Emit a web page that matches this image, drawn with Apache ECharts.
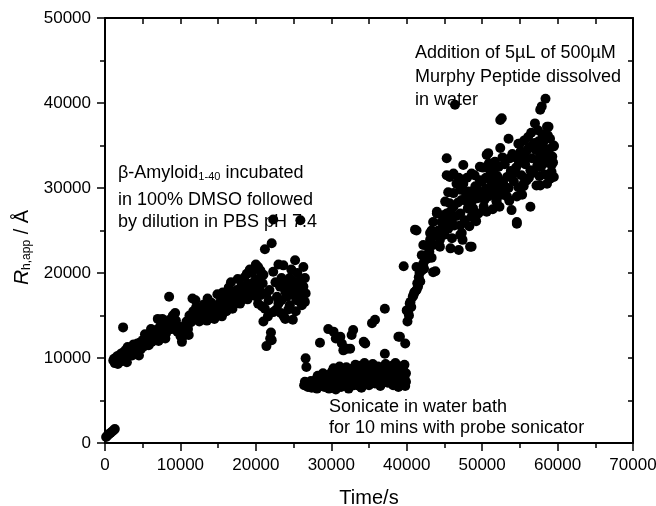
<!DOCTYPE html>
<html>
<head>
<meta charset="utf-8">
<title>Rh vs time</title>
<script src="https://cdn.jsdelivr.net/npm/echarts@6/dist/echarts.min.js"></script>
<style>
  html, body { margin: 0; padding: 0; background: #fff; }
  #main { width: 656px; height: 506px; }
</style>
</head>
<body>
<div id="main"></div>
<script>
// axis ranges (s and Å)
var timeRange = [0, 70000];
var rhRange = [0, 50000];

// β-Amyloid in DMSO then diluted in PBS  [time/s, Rh/Å]
var dmsoPoints = [
  [150, 700], [350, 900], [550, 1050], [750, 1200], [950, 1350], [1150, 1500], [1300, 1650],
  [1100, 9700], [1300, 9400], [1500, 9900], [1700, 9300], [1900, 10100], [2100, 9600], [2300, 10600],
  [2400, 13600], [2500, 9900], [2700, 10900], [2900, 9500], [3000, 11300], [3200, 10400], [3400, 11000],
  [3600, 10300], [3800, 11600], [4000, 10800], [4200, 11300], [4400, 10600], [4600, 11800], [4800, 11100],
  [5000, 12100], [5200, 11400], [5400, 11900], [5600, 12400], [5800, 11500], [6000, 12600], [6200, 11900],
  [6400, 12900], [6600, 12300], [6800, 13300], [7000, 14600], [7100, 12000], [7300, 13700], [7500, 12500],
  [7700, 13200], [7900, 14200], [8100, 12900], [8300, 13800], [8500, 17200], [8600, 14500], [8800, 13400],
  [9000, 15000], [9200, 13900], [9400, 14400], [9600, 13100], [9800, 13700], [10000, 12600], [10200, 11900],
  [10400, 13000], [10600, 13800], [10800, 14300], [11000, 13400], [11200, 15000], [11400, 14200], [11600, 17000],
  [11700, 15500], [11900, 14700], [12100, 16000], [12300, 15100], [12500, 14300], [12700, 15700], [12900, 14800],
  [13100, 16300], [13300, 15300], [13500, 14400], [13700, 15900], [13900, 15000], [14100, 16500], [14300, 15400],
  [14500, 14600], [14700, 16100], [14900, 17500], [15100, 15300], [15300, 16600], [15500, 14900], [15700, 15800],
  [15900, 16900], [16100, 15500], [16300, 17300], [16500, 16200], [16700, 18900], [16900, 15800], [17100, 17500],
  [17300, 16600], [17500, 18000], [17700, 17100], [17900, 16400], [18100, 18500], [18300, 17400], [18500, 19500],
  [18700, 17900], [18900, 16900], [19100, 18700], [19300, 17600], [19500, 20000], [19700, 18300], [19900, 17300],
  [20100, 19200], [20300, 20700], [20300, 16400], [20500, 18100], [20700, 19600],
  [1200, 9900], [1600, 10200], [2000, 10400], [2400, 10300], [2800, 10600], [3100, 10900], [3500, 11300],
  [3900, 11200], [4300, 11700], [4700, 11500], [5100, 11800], [5500, 12200], [5900, 12100], [6300, 12400],
  [6700, 12700], [7100, 13000], [7400, 13400], [7800, 13500], [8200, 13500], [8700, 14000], [9100, 14400],
  [9500, 13800], [9900, 13200], [10300, 12500], [10500, 13500], [10900, 14000], [11300, 14600], [11800, 15200],
  [12200, 15500], [12600, 15000], [13000, 15500], [13400, 15800], [13800, 15400], [14200, 15800], [14600, 15500],
  [15000, 16000], [15400, 15900], [15800, 16300], [16200, 16400], [16600, 16800], [17000, 16800], [17400, 17300],
  [17800, 17700], [18200, 17800], [18600, 18300], [19000, 17800], [19400, 18600], [19800, 19000], [20200, 17800],
  [20600, 17400], [5300, 12800], [6100, 13400], [7600, 14600], [9300, 15300], [12000, 16800], [13600, 17000],
  [15600, 17700], [16400, 18300], [17600, 19300], [18800, 19900], [19200, 20400], [20000, 21000], [4500, 10300],
  [8000, 12300], [11100, 12700],
  [20900, 18800], [21000, 14300], [21200, 22800], [21400, 17600], [21400, 11400], [21600, 14900], [21700, 16800],
  [21900, 12300], [22000, 13000], [22100, 23500], [22100, 12100], [22300, 26300], [22300, 20150], [22300, 15400],
  [22800, 17200], [23000, 16400], [23200, 18400], [23400, 19400], [23400, 16800], [23650, 20900], [23700, 14900],
  [23900, 17800], [23900, 14600], [24100, 17200], [24500, 19400], [24500, 16200], [24900, 14500], [25000, 19000],
  [25000, 17400], [25200, 21500], [25200, 18400], [25400, 16800], [25600, 17800], [25900, 19200], [25900, 26200],
  [26100, 16200], [26300, 20700], [26300, 18400], [26500, 19400], [26600, 17600],
  [21000, 19800], [21800, 18000], [22600, 18900], [23000, 21000], [23800, 19000], [24200, 18600], [24300, 15700],
  [24700, 20400], [25500, 20000], [25800, 17000], [26000, 18000], [26500, 16600], [22700, 15700], [23300, 15300],
  [24600, 17800], [25300, 15500], [21200, 15800], [20600, 20300], [20800, 16100]
];

// after sonication
var sonicatedPoints = [
  [26600, 9960], [26700, 8950], [28500, 11800], [29600, 13400], [30300, 13100], [30600, 12300], [31200, 12500],
  [31400, 11700], [31600, 10900], [32100, 11100], [32500, 11100], [32700, 12700], [32900, 13300], [34300, 11900],
  [34500, 11700], [35400, 14100], [35800, 14500], [37100, 15800], [37100, 10500], [38900, 12500], [39100, 12500],
  [39800, 11700],
  [26400, 6800], [26700, 7000], [26900, 6600], [27100, 6900], [27400, 6500], [27600, 7100], [27900, 6700],
  [28100, 6400], [28300, 7000], [28600, 6700], [28800, 7400], [28900, 8200], [29100, 6600], [29300, 7800],
  [29500, 6900], [29700, 6400], [29900, 7300], [30100, 8400], [30200, 6700], [30400, 7600], [30600, 6300],
  [30800, 7100], [31000, 8000], [31100, 9000], [31300, 6600], [31500, 7500], [31700, 8400], [31900, 6900],
  [32100, 7800], [32300, 6400], [32500, 8700], [32600, 7200], [32800, 8000], [33000, 6800], [33200, 9200],
  [33300, 7600], [33500, 8400], [33700, 6700], [33900, 7900], [34100, 8800], [34200, 7100], [34400, 9400],
  [34600, 7700], [34800, 8500], [35000, 6800], [35200, 7400], [35400, 8900], [35600, 8100], [35800, 7000],
  [36000, 7700], [36200, 9000], [36400, 8200], [36600, 7200], [36800, 8700], [37000, 7600], [37200, 9300],
  [37300, 8100], [37500, 7100], [37700, 8600], [37900, 7700], [38100, 9100], [38200, 6800], [38400, 8300],
  [38600, 7500], [38800, 8900], [39000, 7000], [39200, 8000], [39400, 7400], [39500, 8700], [39700, 7700],
  [39800, 6700], [39900, 8200],
  [26500, 7200], [27300, 7300], [28000, 7500], [28700, 7000], [29400, 7400], [30000, 7000], [30700, 7800],
  [31200, 7300], [31800, 7700], [32400, 7500], [33100, 7900], [33800, 7300], [34500, 8100], [35100, 7900],
  [35700, 8400], [36300, 7500], [36900, 8000], [37600, 7900], [38300, 7700], [39000, 8300], [39600, 8000],
  [30300, 8800], [32000, 8900], [33600, 9100], [35500, 9300], [37000, 9000], [38500, 9400], [39300, 9000],
  [28200, 7900], [29600, 8000], [34000, 6500], [36500, 6700], [38900, 6600], [39700, 9200], [39900, 7200]
];

// after addition of Murphy peptide
var peptidePoints = [
  [39600, 20800], [40000, 15600], [40100, 14300], [40200, 15400], [40400, 16400], [40500, 16600], [40800, 17200],
  [40900, 17400], [41100, 17800], [41300, 18000], [41500, 18400], [41800, 19000], [41300, 20700], [42200, 21100],
  [42000, 22100], [42600, 22100], [43500, 20100], [43800, 20200], [42200, 23300], [43100, 23900], [43500, 23300],
  [44400, 23100], [41100, 25100], [41300, 25000], [43300, 25000], [43500, 26000], [43100, 24700], [44000, 27000],
  [44000, 27200], [44900, 25400], [44400, 23900], [45100, 28400], [45500, 29500], [45700, 28200], [45300, 27000],
  [45700, 31300], [45300, 31500], [46000, 24100], [46200, 29400], [46200, 31700], [46200, 27800], [45300, 33500],
  [46400, 39800], [46900, 22700], [47100, 24500], [47100, 25600], [47100, 27000], [47100, 29800], [47300, 24700],
  [47500, 32700], [48000, 28400], [48400, 23100], [48400, 29000], [48600, 23100], [48600, 31700], [48800, 27200],
  [48800, 27600], [49100, 30200], [49300, 30100], [49700, 32500], [50200, 27800], [50600, 33900], [50800, 34100],
  [51100, 31900], [51100, 29800], [51500, 32100], [51500, 30300], [51700, 33100], [51900, 28400], [51900, 28600],
  [52400, 38000], [52600, 38200], [52400, 34700], [52600, 29200], [53300, 31300], [53300, 29000], [53500, 35800],
  [53900, 27400], [54600, 33500], [54600, 29000], [54600, 25800], [54600, 26000], [54800, 35200], [55000, 35200],
  [55500, 30500], [55500, 30200], [56100, 36000], [56400, 32100], [56400, 27800], [57000, 37600], [57200, 30300],
  [57700, 33900], [57700, 34100], [57700, 30300], [57700, 39200], [57900, 39600], [58100, 32900], [58400, 40500],
  [58600, 37200], [58600, 30500], [58800, 37200], [59000, 31100], [59500, 35000], [59500, 31300], [59500, 34900],
  [47500, 30500], [48000, 31200], [48200, 29600], [48700, 28500], [49000, 31500], [49400, 28800], [49800, 29400],
  [50000, 30800], [50300, 28600], [50500, 31200], [50800, 29000], [51200, 30800], [51400, 27500], [51800, 31000],
  [52000, 29800], [52200, 32500], [52800, 30500], [53000, 32800], [53500, 30000], [53800, 32000], [54000, 34000],
  [54200, 30800], [54400, 31800], [54900, 33000], [55200, 31500], [55400, 34000], [55700, 32800], [55900, 30900],
  [56000, 34500], [56200, 31200], [56600, 33500], [56800, 31800], [57000, 35300], [57300, 32600], [57500, 35500],
  [57600, 31400], [57900, 34800], [58200, 33500], [58300, 31600], [58500, 34300], [58800, 33400], [59000, 35800],
  [59200, 32700], [59300, 33700], [58000, 36300], [56500, 36500], [45900, 26300], [46600, 26700], [46800, 28300],
  [47700, 26200], [48300, 25500], [49500, 27000], [44600, 26000], [45000, 24500], [42800, 21700], [43000, 22500],
  [42300, 20500], [41700, 20000],
  [40300, 15000], [40600, 16000], [41000, 17700], [41400, 18800], [41600, 19500], [42000, 20300], [42400, 21500],
  [42900, 23000], [43300, 21800], [43700, 24500], [44200, 25000], [44800, 26800], [45200, 26000], [45500, 25200],
  [45800, 27200], [46300, 25600], [46600, 30500], [46900, 31200], [47300, 28600], [47800, 29500], [48100, 27600],
  [48600, 26600], [49000, 29200], [49700, 30900], [50100, 32400], [50500, 29900], [50900, 32900], [51300, 31400],
  [51600, 29400], [52000, 31400], [52400, 30800], [52700, 33600], [53100, 29800], [53700, 33500], [54100, 31800],
  [54500, 32400], [54800, 30100], [55100, 34300], [55600, 35600], [55900, 33500], [56300, 34800], [56800, 35200],
  [57100, 34500], [57400, 33200], [57800, 32500], [58100, 35400], [58500, 33000], [58900, 34600], [59200, 31900],
  [59400, 33000], [58700, 36200], [57400, 36800], [55300, 29200], [53600, 28500], [52300, 27800], [50600, 27200],
  [49200, 26100], [47400, 23900], [45800, 22900]
];

var chart = echarts.init(document.getElementById('main'));
var FONT = '"Liberation Sans", Arial, sans-serif';

function dotSeries(name, pts) {
  return {
    name: name,
    type: 'scatter',
    data: pts,
    symbol: 'circle',
    symbolSize: 10,
    itemStyle: { color: '#000', opacity: 1 },
    z: 5
  };
}

var lineStyle = { color: '#000', width: 2 };
var plain = function (v) { return String(v); };

option = {
  animation: false,
  backgroundColor: '#fff',
  grid: { left: 105, right: 23, top: 18, bottom: 63, outerBoundsMode: 'none' },
  xAxis: [
    {
      type: 'value', position: 'bottom',
      min: timeRange[0], max: timeRange[1], interval: 10000,
      axisLine: { onZero: false, lineStyle: lineStyle },
      axisTick: { inside: false, length: 8, lineStyle: { color: '#000', width: 1.5 } },
      minorTick: { show: true, splitNumber: 2, length: 5, lineStyle: { color: '#000', width: 1.5 } },
      axisLabel: { color: '#000', fontSize: 17, fontFamily: FONT, margin: 14, formatter: plain },
      splitLine: { show: false },
      name: 'Time/s', nameLocation: 'middle', nameGap: 45,
      nameTextStyle: { color: '#000', fontSize: 20, fontFamily: FONT }
    },
    {
      type: 'value', position: 'top',
      min: timeRange[0], max: timeRange[1], interval: 5000,
      axisLine: { onZero: false, lineStyle: lineStyle },
      axisTick: { inside: true, length: 6, lineStyle: { color: '#000', width: 1.5 } },
      axisLabel: { show: false },
      splitLine: { show: false }
    }
  ],
  yAxis: [
    {
      type: 'value', position: 'left',
      min: rhRange[0], max: rhRange[1], interval: 10000,
      axisLine: { show: true, onZero: false, lineStyle: lineStyle },
      axisTick: { show: true, inside: false, length: 8, lineStyle: { color: '#000', width: 1.5 } },
      minorTick: { show: true, splitNumber: 2, length: 5, lineStyle: { color: '#000', width: 1.5 } },
      axisLabel: { color: '#000', fontSize: 17, fontFamily: FONT, margin: 14, formatter: plain },
      splitLine: { show: false },
      name: '{i|R}{s|h,app}{n| / Å}',
      nameLocation: 'middle', nameRotate: 90, nameGap: 68,
      nameTextStyle: {
        color: '#000', fontFamily: FONT, padding: [0, 34, 0, 0],
        rich: {
          i: { fontSize: 21, fontStyle: 'italic', fontFamily: FONT, color: '#000' },
          s: { fontSize: 12, fontFamily: FONT, color: '#000', verticalAlign: 'bottom', padding: [8, 0, 0, 0] },
          n: { fontSize: 20, fontFamily: FONT, color: '#000' }
        }
      }
    },
    {
      type: 'value', position: 'right',
      min: rhRange[0], max: rhRange[1], interval: 5000,
      axisLine: { show: true, onZero: false, lineStyle: lineStyle },
      axisTick: { show: true, inside: true, length: 5, lineStyle: { color: '#000', width: 1.5 } },
      axisLabel: { show: false },
      splitLine: { show: false }
    }
  ],
  graphic: [
    { type: 'text', x: 118, y: 173, z: 0,
      style: { text: '{t|β-Amyloid}{s|1-40}{t| incubated}', fill: '#000', verticalAlign: 'middle',
        rich: { t: { fontSize: 18, fontFamily: FONT, fill: '#000' },
                s: { fontSize: 11, fontFamily: FONT, fill: '#000', verticalAlign: 'bottom' } } } },
    { type: 'text', x: 118, y: 200, z: 0,
      style: { text: 'in 100% DMSO followed', fontSize: 18, fontFamily: FONT, fill: '#000', verticalAlign: 'middle' } },
    { type: 'text', x: 118, y: 222, z: 0,
      style: { text: 'by dilution in PBS pH 7.4', fontSize: 18, fontFamily: FONT, fill: '#000', verticalAlign: 'middle' } },
    { type: 'text', x: 415, y: 53, z: 0,
      style: { text: 'Addition of 5µL of 500µM', fontSize: 18, fontFamily: FONT, fill: '#000', verticalAlign: 'middle' } },
    { type: 'text', x: 415, y: 77, z: 0,
      style: { text: 'Murphy Peptide dissolved', fontSize: 18, fontFamily: FONT, fill: '#000', verticalAlign: 'middle' } },
    { type: 'text', x: 415, y: 100, z: 0,
      style: { text: 'in water', fontSize: 18, fontFamily: FONT, fill: '#000', verticalAlign: 'middle' } },
    { type: 'text', x: 329, y: 407, z: 0,
      style: { text: 'Sonicate in water bath', fontSize: 18, fontFamily: FONT, fill: '#000', verticalAlign: 'middle' } },
    { type: 'text', x: 329, y: 428, z: 0,
      style: { text: 'for 10 mins with probe sonicator', fontSize: 18, fontFamily: FONT, fill: '#000', verticalAlign: 'middle' } }
  ],
  series: [
    dotSeries('DMSO / PBS', dmsoPoints),
    dotSeries('Sonicated', sonicatedPoints),
    dotSeries('Murphy peptide', peptidePoints)
  ]
};

chart.setOption(option);
</script>
</body>
</html>
